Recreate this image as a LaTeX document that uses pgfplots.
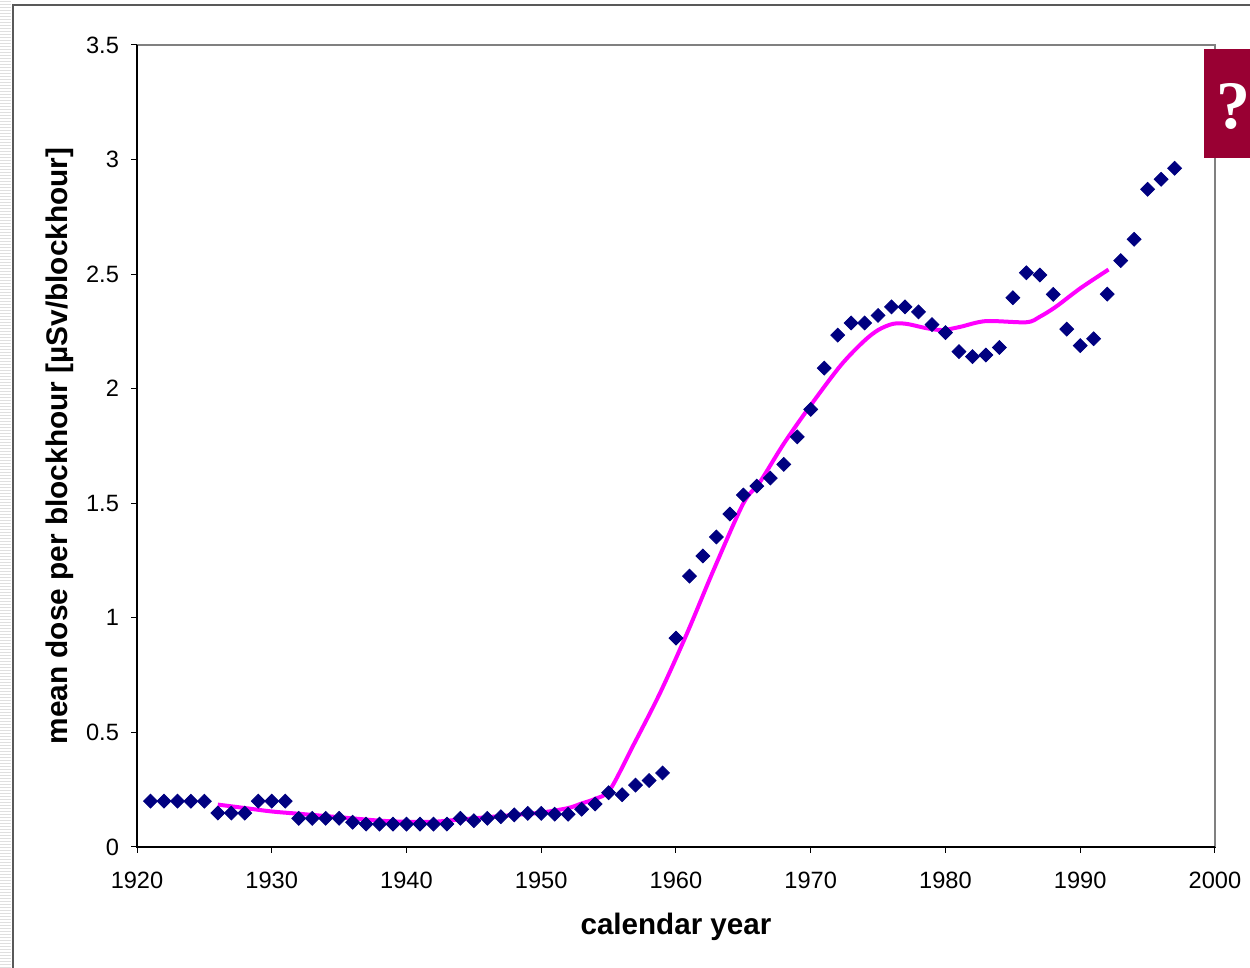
\documentclass[border=0pt]{standalone}
\usepackage{pgfplots}
\pgfplotsset{compat=1.18}
\usepackage{fontspec}
\setmainfont{Liberation Sans}
\newfontfamily\qfont{Liberation Serif}
\definecolor{navyd}{HTML}{000080}
\definecolor{mag}{HTML}{FF00FF}
\definecolor{qred}{HTML}{990033}
\begin{document}
\begin{tikzpicture}[x=1pt,y=1pt]
\useasboundingbox (0,0) rectangle (625,484);
% left stripes artifact
\foreach \yy in {0,1.5,...,484}{\draw[gray!25,line width=0.5pt] (0,\yy) -- (5.5,\yy);}
\draw[gray!70!black,line width=0.6pt] (6.5,-2) -- (6.5,481.5) -- (630,481.5);
\begin{axis}[
  at={(68.5pt,60.5pt)}, anchor=south west,
  scale only axis, width=539pt, height=401pt,
  xmin=1920, xmax=2000, ymin=0, ymax=3.5,
  xtick={1920,1930,...,2000},
  ytick={0,0.5,...,3.5},
  yticklabels={0,0.5,1,1.5,2,2.5,3,3.5},
  /pgf/number format/1000 sep={},
  /pgf/number format/assume math mode=true,
  tick align=outside, xtick pos=left, ytick pos=left,
  major tick length=3pt,
  tick style={black, line width=0.5pt},
  axis line style={black, line width=0.6pt},
  ticklabel style={font=\fontsize{11.8}{14}\selectfont},
  xticklabel style={yshift=-6pt},
  yticklabel style={xshift=-2.5pt},
  xlabel={\textbf{calendar year}},
  ylabel={\textbf{mean dose per blockhour [µSv/blockhour]}},
  every axis x label/.style={at={(axis description cs:0.5,-0.1)},anchor=center,font=\fontsize{14.8}{16}\selectfont},
  every axis y label/.style={at={(axis description cs:-0.0714,0.5)},rotate=90,anchor=center,font=\fontsize{14.9}{16}\selectfont},
  clip=false,
]
\addplot[mag, line width=2pt, smooth, tension=0.5] coordinates {
(1926,0.185) (1928,0.17) (1930,0.155) (1932,0.145) (1935,0.13) (1938,0.115)
(1940,0.11) (1942,0.11) (1944,0.12) (1946,0.13) (1948,0.14) (1950,0.15)
(1952,0.17) (1953,0.19) (1954,0.21) (1955.1,0.25) (1956.8,0.44) (1958.8,0.67)
(1960.8,0.93) (1962.8,1.21) (1965,1.50) (1966.2,1.59) (1968,1.76) (1969.9,1.92)
(1972.2,2.10) (1973.9,2.205) (1975,2.256) (1976.1,2.283) (1977.1,2.283)
(1978.6,2.264) (1979.8,2.256) (1981.1,2.27) (1983,2.295) (1986,2.29)
(1987,2.314) (1988.2,2.358) (1990,2.438) (1992.1,2.52)
};
\addplot[only marks, mark=square*, mark size=2.45pt, color=navyd,
  mark options={rotate=45, draw=navyd, fill=navyd}] coordinates {
(1921,0.20) (1922,0.20) (1923,0.20) (1924,0.20) (1925,0.20)
(1926,0.148) (1927,0.148) (1928,0.148)
(1929,0.20) (1930,0.20) (1931,0.20)
(1932,0.125) (1933,0.125) (1934,0.125) (1935,0.125) (1936,0.108)
(1937,0.10) (1938,0.10) (1939,0.10) (1940,0.10) (1941,0.10) (1942,0.10) (1943,0.10)
(1944,0.125) (1945,0.115) (1946,0.125) (1947,0.132) (1948,0.14) (1949,0.147)
(1950,0.147) (1951,0.143) (1952,0.143) (1953,0.165) (1954,0.188)
(1955,0.237) (1956,0.228) (1957,0.27) (1958,0.29) (1959,0.323)
(1960,0.912) (1961,1.182) (1962,1.27) (1963,1.353) (1964,1.453) (1965,1.536)
(1966,1.575) (1967,1.61) (1968,1.67) (1969,1.79) (1970,1.91)
(1971,2.09) (1972,2.234) (1973,2.287) (1974,2.287) (1975,2.32)
(1976,2.357) (1977,2.357) (1978,2.335) (1979,2.28) (1980,2.245)
(1981,2.162) (1982,2.14) (1983,2.147) (1984,2.18) (1985,2.397)
(1986,2.506) (1987,2.496) (1988,2.412) (1989,2.26) (1990,2.188)
(1991,2.218) (1992,2.413) (1993,2.559) (1994,2.652) (1995,2.87)
(1996,2.914) (1997,2.962)
};
\draw[gray, line width=0.6pt] (rel axis cs:0,1) -- (rel axis cs:1,1) -- (rel axis cs:1,0);
\draw[black, line width=0.6pt] (rel axis cs:0,0) -- (rel axis cs:1,0);
\draw[black, line width=0.6pt] (rel axis cs:0,0) -- (rel axis cs:0,1);
\end{axis}
\fill[qred] (602,405) rectangle (630,459.5);
\node[white, font=\qfont\bfseries\fontsize{34}{36}\selectfont, anchor=center, inner sep=0pt] at (616.5,431) {?};
\end{tikzpicture}
\end{document}
